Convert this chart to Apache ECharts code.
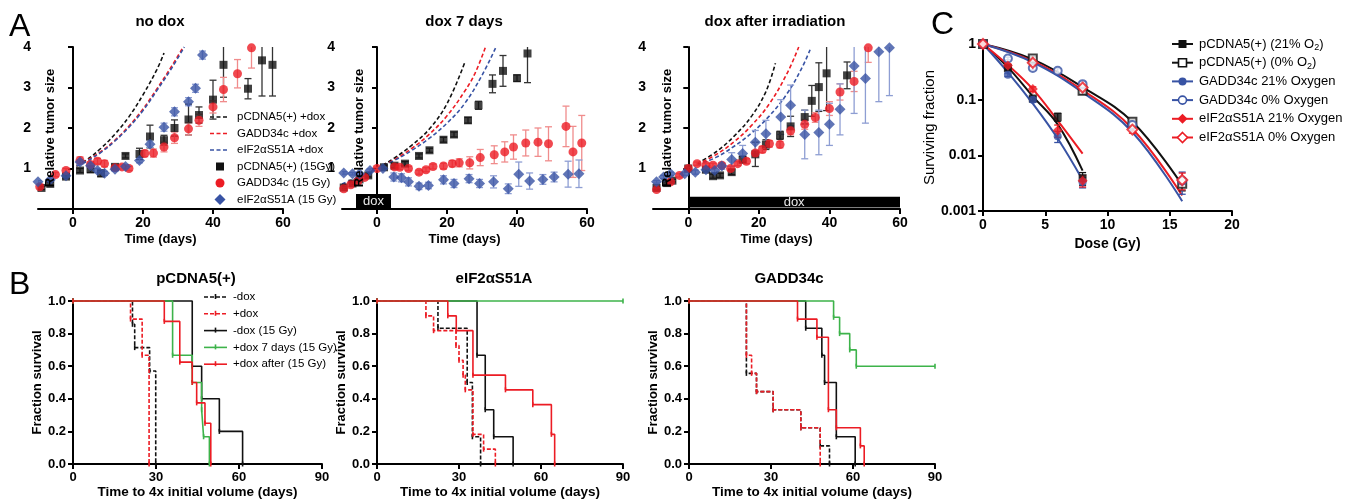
<!DOCTYPE html>
<html><head><meta charset="utf-8">
<script src="https://cdn.jsdelivr.net/npm/echarts@6/dist/echarts.min.js"></script>
<style>html,body{margin:0;padding:0;background:#fff}#c{width:1350px;height:502px}</style>
</head><body><div id="c"></div>
<script>
// ================= DATA =================
// Panel A ticks
const aXTicks = [0, 20, 40, 60];
const aYTicks = [1, 2, 3, 4];
// Panel A "no dox": fitted growth curves (+dox)  [day, relative size]
const noDoxFitPcdna = [[1,1.08],[4,1.22],[8,1.5],[12,1.85],[16,2.28],[20,2.82],[24,3.45],[26,3.85]];
const noDoxFitGadd  = [[1,1.07],[4,1.2],[8,1.42],[12,1.7],[16,2.05],[20,2.47],[24,2.97],[28,3.5],[31.5,4.0]];
const noDoxFitEif   = [[1,1.06],[4,1.18],[8,1.4],[12,1.68],[16,2.02],[20,2.43],[24,2.93],[28,3.45],[31.8,4.0]];
// 15 Gy groups  [day, mean, sem]
const noDoxPcdna = [[-9,0.52,0.04],[-6.5,0.62,0.04],[-2,0.8,0.05],[2,0.95,0.05],[5,0.98,0.08],[8,0.88,0.08],[12,1.04,0.05],[15,1.31,0.05],[19,1.36,0.14],[22,1.79,0.28],[26,1.7,0.12],[29,2.0,0.2],[33,2.21,0.38],[36,2.32,0.2],[40,2.7,0.48],[43,3.56,0.8],[50,2.97,0.25],[54,3.67,0.88],[57,3.56,0.77]];
const noDoxGadd  = [[-9.5,0.55,0.04],[-5,0.85,0.05],[-2,0.95,0.05],[2,1.2,0.09],[5,1.1,0.06],[7,1.18,0.07],[9,1.12,0.08],[12,1.02,0.05],[14,1.04,0.05],[16,1.0,0.05],[20.5,1.37,0.08],[23,1.38,0.1],[26,1.53,0.12],[29,1.76,0.14],[33,1.98,0.15],[36,2.19,0.15],[40,2.52,0.15],[43,2.95,0.3],[47,3.34,0.35],[51,3.98,0.5]];
const noDoxEif   = [[-10,0.67,0.03],[-6.5,0.72,0.03],[-2,0.82,0.04],[2,1.16,0.06],[5,1.07,0.06],[7,0.95,0.05],[9,0.88,0.05],[12,0.98,0.05],[15,1.05,0.05],[19,1.2,0.06],[22,1.6,0.08],[26,2.02,0.1],[29,2.4,0.1],[33,2.65,0.1],[35,2.98,0.1],[37,3.8,0.1]];
// Panel A "dox 7 days"
const dox7FitPcdna = [[-10,0.58],[-5,0.77],[0,1.0],[5,1.26],[10,1.58],[15,1.98],[20,2.6],[25,3.6]];
const dox7FitGadd  = [[-10,0.6],[-5,0.78],[0,1.0],[5,1.22],[10,1.5],[15,1.85],[20,2.3],[25,2.9],[28,3.35],[31,4.0]];
const dox7FitEif   = [[-10,0.62],[-5,0.8],[0,1.0],[5,1.2],[10,1.45],[15,1.75],[20,2.12],[25,2.6],[30,3.3],[34,4.0]];
const dox7Pcdna = [[-9.5,0.53,0.03],[-7,0.63,0.03],[-5,0.73,0.03],[-2.5,0.83,0.04],[2,1.03,0.04],[5,1.07,0.05],[8,1.12,0.05],[12,1.31,0.05],[15,1.45,0.05],[19,1.71,0.06],[22,1.84,0.06],[26,2.19,0.07],[29,2.56,0.1],[33,3.09,0.22],[36,3.41,0.38],[40,3.23,0.08],[43,3.84,0.72]];
const dox7Gadd  = [[-9.5,0.5,0.04],[-7.5,0.6,0.04],[-5.5,0.68,0.04],[-3.5,0.78,0.04],[0,1.0,0.03],[5,1.04,0.05],[6.5,1.03,0.05],[9,1.0,0.05],[12,0.91,0.05],[14,0.97,0.05],[16,1.05,0.06],[19,1.06,0.07],[21.5,1.12,0.08],[23.5,1.14,0.1],[26.5,1.14,0.15],[29.5,1.27,0.2],[33.5,1.34,0.22],[36.5,1.41,0.25],[39,1.53,0.3],[42.5,1.63,0.32],[46,1.65,0.35],[49,1.61,0.42],[54,2.04,0.5],[56,1.41,0.63],[58.5,1.63,0.68]];
const dox7Eif   = [[-9.5,0.89,0.03],[-7,0.87,0.03],[-5,0.87,0.03],[-2,0.95,0.04],[1.7,1.0,0.04],[4.8,0.79,0.1],[7,0.77,0.1],[9,0.67,0.1],[12,0.56,0.08],[14.7,0.58,0.08],[19,0.72,0.1],[22,0.63,0.1],[26.3,0.75,0.1],[29.3,0.63,0.1],[33.3,0.67,0.15],[37.5,0.5,0.12],[40.5,0.86,0.3],[43.6,0.69,0.2],[47.4,0.73,0.12],[50.6,0.79,0.12],[54.6,0.86,0.32],[57.7,0.87,0.34]];
const dox7Period = [[-6, 4]];
// Panel A "dox after irradiation"
const doxIrrFitPcdna = [[2.5,1.12],[8,1.42],[13,1.8],[18,2.3],[22,2.9],[24.7,3.6]];
const doxIrrFitGadd  = [[2.5,1.1],[8,1.35],[13,1.66],[18,2.07],[23,2.6],[28,3.35],[31.3,4.0]];
const doxIrrFitEif   = [[2.5,1.08],[8,1.28],[13,1.55],[18,1.88],[23,2.3],[28,2.85],[32,3.45],[34.6,3.95]];
const doxIrrPcdna = [[-9,0.52,0.03],[-6,0.64,0.03],[-4.5,0.7,0.03],[0,1.0,0.03],[5,0.97,0.05],[7,0.81,0.05],[9,0.83,0.05],[12.3,0.91,0.06],[15.4,1.22,0.08],[19,1.35,0.3],[22,1.59,0.12],[26,1.82,0.1],[29,2.04,0.25],[33,2.27,0.17],[35,2.67,0.38],[37,3.01,0.6],[39.2,3.35,0.92],[45,3.3,0.33]];
const doxIrrGadd  = [[-9,0.48,0.03],[-5,0.67,0.03],[-2.5,0.83,0.04],[0,1.0,0.03],[2.5,1.12,0.04],[5,1.08,0.05],[7,1.08,0.05],[9.5,1.08,0.05],[12,1.0,0.05],[14,1.12,0.05],[16.5,1.18,0.06],[19,1.38,0.07],[21,1.47,0.08],[23,1.61,0.08],[26,1.59,0.08],[29,1.93,0.1],[33,2.09,0.12],[36,2.26,0.12],[40,2.48,0.17],[43,2.89,0.2],[47,3.15,0.25],[51,3.98,0.36]];
const doxIrrEif   = [[-9,0.67,0.03],[-7,0.79,0.04],[-5,0.87,0.04],[-1,0.87,0.04],[2,0.91,0.05],[5,0.97,0.06],[7.5,0.95,0.06],[9.5,1.06,0.08],[12.3,1.22,0.17],[15.4,1.37,0.2],[19,1.65,0.29],[22,1.86,0.33],[26.2,2.27,0.43],[29,2.56,0.5],[33,1.84,0.6],[37,1.89,0.55],[40,2.09,0.52],[43,2.46,0.63],[47,3.53,1.17],[50.2,3.22,1.1],[54,3.88,1.23],[57,3.98,1.18]];
const doxIrrPeriod = [[0, 60]];

// Panel C: clonogenic survival  [dose Gy, surviving fraction, sem]
const cPcdna21 = [[0,1,0],[2,0.37,0.03],[4,0.105,0.01],[6,0.049,0.008],[8,0.0039,0.001]];
const cPcdna0  = [[0,1,0],[4,0.55,0.04],[8,0.145,0.02],[12,0.04,0.004],[16,0.0031,0.0008]];
const cGadd21  = [[0,1,0],[2,0.28,0.02],[4,0.1,0.01],[6,0.022,0.005],[8,0.0033,0.0007]];
const cGadd0   = [[0,1,0],[2,0.55,0.03],[4,0.37,0.03],[6,0.33,0.03],[8,0.19,0.02],[12,0.035,0.004],[16,0.0035,0.0015]];
const cEif21   = [[0,1,0],[2,0.41,0.03],[4,0.155,0.015],[6,0.028,0.007],[8,0.0035,0.0008]];
const cEif0    = [[0,1,0],[4,0.46,0.03],[8,0.165,0.02],[12,0.029,0.004],[16,0.0036,0.0012]];
const cFitPcdna21 = [[0,1],[2,0.38],[4,0.115],[6,0.036],[8,0.0053]];
const cFitGadd21  = [[0,1],[2,0.31],[4,0.085],[6,0.02],[8,0.0036]];
const cFitEif21   = [[0,1],[2,0.42],[4,0.155],[6,0.042],[8,0.0107]];
const cFitPcdna0  = [[0,1],[4,0.53],[8,0.168],[12,0.04],[16,0.0029]];
const cFitEif0    = [[0,1],[4,0.49],[8,0.148],[12,0.03],[16,0.0019]];
const cFitGadd0   = [[0,1],[4,0.47],[8,0.135],[12,0.026],[16,0.0015]];
const cXTicks = [0, 5, 10, 15, 20];

// Panel B: Kaplan-Meier  [days, fraction surviving]
const bXTicks = [0, 30, 60, 90];
const bYTicks = [0, 0.2, 0.4, 0.6, 0.8, 1.0];
const kmPcdnaNoDox     = [[0,1],[21.5,0.857],[22.3,0.714],[27.7,0.571],[29.9,0]];
const kmPcdnaDox       = [[0,1],[20.8,0.889],[25,0.667],[27.5,0]];
const kmPcdnaNoDox15   = [[0,1],[43.1,0.6],[46.5,0.4],[52.9,0.2],[61.3,0]];
const kmPcdnaDox7      = [[0,1],[36,0.667],[43.1,0.5],[46.5,0.333],[47.2,0.167],[49.3,0]];
const kmPcdnaDoxAfter  = [[0,1],[33,0.875],[38.6,0.625],[43.1,0.5],[44.7,0.375],[47.7,0.25],[49.8,0]];
const kmEifNoDox       = [[0,1],[22.3,0.833],[33,0.5],[34.9,0.167],[37.9,0]];
const kmEifDox         = [[0,1],[17.9,0.909],[20.7,0.818],[28.9,0.727],[30,0.636],[31.5,0.545],[32.3,0.455],[35.1,0.182],[39,0.091],[43.3,0]];
const kmEifNoDox15     = [[0,1],[36.6,0.667],[39.6,0.333],[42.7,0.167],[49.8,0]];
const kmEifDox7        = [[0,1],[90,1]];
const kmEifDoxAfter    = [[0,1],[25.9,0.909],[29,0.818],[35.1,0.545],[47,0.455],[57,0.364],[63.8,0.182],[65,0]];
const kmGaddNoDox      = [[0,1],[21,0.556],[24.7,0.444],[30.8,0.333],[40.9,0.222],[48,0.111],[51.4,0]];
const kmGaddDox        = [[0,1],[21,0.667],[22.9,0.556],[24.7,0.444],[30.8,0.333],[40.9,0.222],[48,0]];
const kmGaddNoDox15    = [[0,1],[42.7,0.833],[48.6,0.667],[49.6,0.5],[53.9,0.167],[60.8,0]];
const kmGaddDox7       = [[0,1],[52.9,0.9],[55.1,0.8],[58.8,0.7],[61.2,0.6],[90,0.6]];
const kmGaddDoxAfter   = [[0,1],[39.7,0.889],[46.8,0.778],[51,0.333],[53.9,0.222],[62.7,0.111],[64.1,0]];

// ================= STYLE / LAYOUT =================
const FONT = "'Liberation Sans', Arial, Helvetica, sans-serif";
const BLACK = '#111111', RED = '#ec1c24', BLUE = '#3853a4', GREEN = '#3db34a';
const RED_ERR = '#f08c8c', BLUE_ERR = '#8e9ed3', BLACK_ERR = '#333333';

const grids = [
  {left: 38,  top: 47,  width: 245, height: 162},
  {left: 342, top: 47,  width: 245, height: 162},
  {left: 653, top: 47,  width: 247, height: 162},
  {left: 983, top: 44,  width: 249, height: 167},
  {left: 73,  top: 301, width: 249, height: 163},
  {left: 377, top: 301, width: 246, height: 163},
  {left: 689, top: 301, width: 246, height: 163}
];
const aYNameX = [50, 359, 667];

const lineAx = {show: true, lineStyle: {color: '#000', width: 2}};
const tickAx = {show: true, length: 5, lineStyle: {color: '#000', width: 2}};
function lab(size, weight) { return {color: '#000', fontFamily: FONT, fontWeight: weight || 'bold', fontSize: size}; }

const xAxes = [], yAxes = [];
for (let g = 0; g < 3; g++) {
  xAxes.push({gridIndex: g, type: 'value', min: -10, max: 60,
    axisLine: Object.assign({onZero: true}, lineAx),
    axisTick: Object.assign({customValues: aXTicks}, tickAx),
    axisLabel: Object.assign({customValues: aXTicks, margin: 7}, lab(14)),
    splitLine: {show: false},
    name: 'Time (days)', nameLocation: 'middle', nameGap: 24, nameTextStyle: lab(13)});
  yAxes.push({gridIndex: g, type: 'value', min: 0, max: 4, interval: 1,
    axisLine: Object.assign({onZero: true}, lineAx),
    axisTick: Object.assign({customValues: aYTicks}, tickAx),
    axisLabel: Object.assign({customValues: aYTicks, margin: 7}, lab(14)),
    splitLine: {show: false}});
}
xAxes.push({gridIndex: 3, type: 'value', min: 0, max: 20,
  axisLine: Object.assign({onZero: false}, lineAx),
  axisTick: Object.assign({customValues: cXTicks}, tickAx),
  axisLabel: Object.assign({customValues: cXTicks, margin: 7}, lab(14)),
  splitLine: {show: false},
  name: 'Dose (Gy)', nameLocation: 'middle', nameGap: 26, nameTextStyle: lab(14)});
yAxes.push({gridIndex: 3, type: 'log', logBase: 10, min: 0.001, max: 1,
  axisLine: Object.assign({onZero: false}, lineAx),
  axisTick: tickAx, minorTick: {show: false},
  axisLabel: Object.assign({margin: 7, formatter: v => String(v)}, lab(14)),
  splitLine: {show: false},
  name: 'Surviving fraction', nameLocation: 'middle', nameGap: 28, nameTextStyle: lab(15, 'normal')});
for (let g = 4; g < 7; g++) {
  xAxes.push({gridIndex: g, type: 'value', min: 0, max: 90,
    axisLine: lineAx,
    axisTick: Object.assign({customValues: bXTicks}, tickAx),
    axisLabel: Object.assign({customValues: bXTicks, margin: 7}, lab(13)),
    splitLine: {show: false},
    name: 'Time to 4x initial volume (days)', nameLocation: 'middle', nameGap: 21, nameTextStyle: lab(13.5)});
  yAxes.push({gridIndex: g, type: 'value', min: 0, max: 1,
    axisLine: lineAx,
    axisTick: Object.assign({customValues: bYTicks}, tickAx),
    axisLabel: Object.assign({customValues: bYTicks, margin: 7, formatter: v => v.toFixed(1)}, lab(13)),
    splitLine: {show: false},
    name: 'Fraction survival', nameLocation: 'middle', nameGap: 24, nameTextStyle: lab(13)});
}

// ================= SERIES HELPERS =================
function errSeries(g, data, color, cap, clip) {
  return {type: 'custom', xAxisIndex: g, yAxisIndex: g, data: data, clip: clip, silent: true, z: 3,
    encode: {x: 0, y: 1},
    renderItem: function (params, api) {
      const x = api.value(0), y = api.value(1), e = api.value(2);
      if (!e) return null;
      const lo = Math.max(y - e, 1e-5);
      const p1 = api.coord([x, y + e]), p2 = api.coord([x, lo]);
      const st = {stroke: color, lineWidth: 1.3};
      return {type: 'group', children: [
        {type: 'line', shape: {x1: p1[0], y1: p1[1], x2: p2[0], y2: p2[1]}, style: st},
        {type: 'line', shape: {x1: p1[0] - cap, y1: p1[1], x2: p1[0] + cap, y2: p1[1]}, style: st},
        {type: 'line', shape: {x1: p2[0] - cap, y1: p2[1], x2: p2[0] + cap, y2: p2[1]}, style: st}
      ]};
    }};
}
function fitSeries(g, data, color, dashed, width) {
  return {type: 'line', xAxisIndex: g, yAxisIndex: g, data: data, smooth: 0.4, symbol: 'none', clip: false, silent: true, z: 2,
    lineStyle: {color: color, width: width || 1.6, type: dashed ? [4, 2.5] : 'solid'}};
}
function ptSeries(g, data, symbol, size, color, z) {
  const empty = symbol.indexOf('empty') === 0;
  return {type: 'scatter', xAxisIndex: g, yAxisIndex: g, data: data, symbol: symbol, symbolSize: size, clip: false, silent: true, z: z || 4,
    itemStyle: empty ? {color: color, borderColor: color, borderWidth: 1.6} : {color: color}};
}
function doxSeries(g, data, h0, h1) {
  return {type: 'custom', xAxisIndex: g, yAxisIndex: g, data: data, silent: true, z: 5,
    renderItem: function (params, api) {
      const p0 = api.coord([api.value(0), h1]), p1 = api.coord([api.value(1), h0]);
      return {type: 'group', children: [
        {type: 'rect', shape: {x: p0[0], y: p0[1], width: p1[0] - p0[0], height: p1[1] - p0[1]}, style: {fill: '#000'}},
        {type: 'text', style: {text: 'dox', x: (p0[0] + p1[0]) / 2, y: (p0[1] + p1[1]) / 2 + 0.5, fill: '#e8e8e8',
          align: 'center', verticalAlign: 'middle', textAlign: 'center', textVerticalAlign: 'middle', font: '13px ' + FONT}}
      ]};
    }};
}
function kmSeries(g, data, color, dashed, z) {
  return {type: 'line', xAxisIndex: g, yAxisIndex: g, data: data, step: 'end', clip: false, silent: true, z: z,
    symbol: 'rect', symbolSize: [1.6, 5], showSymbol: true, itemStyle: {color: color},
    lineStyle: {color: color, width: 1.6, type: dashed ? [4, 2] : 'solid'}};
}

const series = [];
const aPanels = [
  [noDoxFitPcdna, noDoxFitGadd, noDoxFitEif, noDoxPcdna, noDoxGadd, noDoxEif],
  [dox7FitPcdna, dox7FitGadd, dox7FitEif, dox7Pcdna, dox7Gadd, dox7Eif],
  [doxIrrFitPcdna, doxIrrFitGadd, doxIrrFitEif, doxIrrPcdna, doxIrrGadd, doxIrrEif]
];
aPanels.forEach(function (p, g) {
  series.push(fitSeries(g, p[0], BLACK, true));
  series.push(fitSeries(g, p[1], RED, true));
  series.push(fitSeries(g, p[2], BLUE, true));
  series.push(errSeries(g, p[3], BLACK_ERR, 3.5, true));
  series.push(errSeries(g, p[4], RED_ERR, 3.5, true));
  series.push(errSeries(g, p[5], BLUE_ERR, 3.5, true));
  series.push(ptSeries(g, p[3], 'rect', 8, BLACK, 4));
  series.push(ptSeries(g, p[4], 'circle', 9, RED, 4));
  series.push(ptSeries(g, p[5], 'diamond', 11, BLUE, 4));
});
series.push(doxSeries(1, dox7Period, 0.02, 0.37));
series.push(doxSeries(2, doxIrrPeriod, 0.04, 0.3));

// Panel C
series.push(fitSeries(3, cFitPcdna21, BLACK, false, 2));
series.push(fitSeries(3, cFitGadd21, BLUE, false, 2));
series.push(fitSeries(3, cFitEif21, RED, false, 2));
series.push(fitSeries(3, cFitPcdna0, BLACK, false, 2));
series.push(fitSeries(3, cFitEif0, RED, false, 2));
series.push(fitSeries(3, cFitGadd0, BLUE, false, 2));
[[cPcdna21, BLACK], [cPcdna0, BLACK], [cGadd21, BLUE], [cGadd0, BLUE], [cEif21, RED], [cEif0, RED]].forEach(function (d) {
  series.push(errSeries(3, d[0], d[1], 3.5, false));
});
series.push(ptSeries(3, cPcdna21, 'rect', 8, BLACK));
series.push(ptSeries(3, cPcdna0, 'emptyRect', 8, BLACK));
series.push(ptSeries(3, cGadd21, 'circle', 8, BLUE));
series.push(ptSeries(3, cGadd0, 'emptyCircle', 8, BLUE));
series.push(ptSeries(3, cEif21, 'diamond', 10, RED));
series.push(ptSeries(3, cEif0, 'emptyDiamond', 10, RED));

// Panel B
const bPanels = [
  [kmPcdnaNoDox, kmPcdnaDox, kmPcdnaNoDox15, kmPcdnaDox7, kmPcdnaDoxAfter],
  [kmEifNoDox, kmEifDox, kmEifNoDox15, kmEifDox7, kmEifDoxAfter],
  [kmGaddNoDox, kmGaddDox, kmGaddNoDox15, kmGaddDox7, kmGaddDoxAfter]
];
bPanels.forEach(function (p, i) {
  const g = 4 + i;
  series.push(kmSeries(g, p[0], BLACK, true, 2));
  series.push(kmSeries(g, p[1], RED, true, 3));
  series.push(kmSeries(g, p[2], BLACK, false, 4));
  series.push(kmSeries(g, p[3], GREEN, false, 5));
  series.push(kmSeries(g, p[4], RED, false, 6));
});

// ================= TEXT / LEGENDS (graphic) =================
const G = [];
function txt(text, x, y, font, align, extra) {
  const st = {text: text, x: x, y: y, font: font, fill: '#000', align: align || 'left', textAlign: align || 'left',
    verticalAlign: 'middle', textVerticalAlign: 'middle'};
  if (extra) Object.assign(st, extra);
  G.push({type: 'text', silent: true, z: 20, style: st});
}
function lline(x1, x2, y, color, dash, w) {
  G.push({type: 'line', silent: true, shape: {x1: x1, y1: y, x2: x2, y2: y}, style: {stroke: color, lineWidth: w || 1.6, lineDash: dash || null}});
}
function mark(kind, cx, cy, s, color) {
  let el;
  const empty = kind.indexOf('empty') === 0;
  const st = empty ? {fill: '#fff', stroke: color, lineWidth: 1.6} : {fill: color};
  const k = kind.replace('empty', '').toLowerCase();
  if (k === 'rect') el = {type: 'rect', shape: {x: cx - s / 2, y: cy - s / 2, width: s, height: s}};
  else if (k === 'circle') el = {type: 'circle', shape: {cx: cx, cy: cy, r: s / 2}};
  else el = {type: 'polygon', shape: {points: [[cx, cy - s / 2], [cx + s / 2, cy], [cx, cy + s / 2], [cx - s / 2, cy]]}};
  el.style = st; el.silent = true; el.z = 10;
  G.push(el);
}
// Panel letters and titles
txt('A', 9, 27, '32px ' + FONT);
txt('B', 9, 285, '32px ' + FONT);
txt('C', 931, 25, '32px ' + FONT);
const TFONT = 'bold 15px ' + FONT;
txt('no dox', 160, 22, TFONT, 'center');
txt('dox 7 days', 464, 22, TFONT, 'center');
txt('dox after irradiation', 775, 22, TFONT, 'center');
txt('pCDNA5(+)', 196, 279, TFONT, 'center');
txt('eIF2\u03b1S51A', 494, 279, TFONT, 'center');
txt('GADD34c', 789, 279, TFONT, 'center');
// Y-axis titles of panel A (rotated)
aYNameX.forEach(function (x) {
  G.push({type: 'text', silent: true, z: 20, x: x, y: 128, rotation: Math.PI / 2,
    style: {text: 'Relative tumor size', x: 0, y: 0, font: 'bold 13px ' + FONT, fill: '#000',
      align: 'center', textAlign: 'center', verticalAlign: 'middle', textVerticalAlign: 'middle'}});
});

// Legend A
const aLegend = ['pCDNA5(+) +dox', 'GADD34c +dox', 'eIF2\u03b1S51A +dox', 'pCDNA5(+) (15Gy)', 'GADD34c (15 Gy)', 'eIF2\u03b1S51A (15 Gy)'];
const LF = '11.5px ' + FONT;
aLegend.forEach(function (t, i) {
  const y = 117 + 16.5 * i;
  if (i === 0) lline(210, 229, y, BLACK, [4, 2.5]);
  if (i === 1) lline(210, 229, y, RED, [4, 2.5]);
  if (i === 2) lline(210, 229, y, BLUE, [4, 2.5]);
  if (i === 3) mark('rect', 220, y, 8, BLACK);
  if (i === 4) mark('circle', 220, y, 9, RED);
  if (i === 5) mark('diamond', 220, y, 11, BLUE);
  txt(t, 237, y, LF);
});
// Legend B
const bLegend = ['-dox', '+dox', '-dox (15 Gy)', '+dox 7 days (15 Gy)', '+dox after (15 Gy)'];
const bLegColors = [BLACK, RED, BLACK, GREEN, RED];
bLegend.forEach(function (t, i) {
  const y = 297 + 16.8 * i;
  lline(204, 227, y, bLegColors[i], i < 2 ? [4, 2] : null);
  G.push({type: 'line', silent: true, shape: {x1: 215.5, y1: y - 3, x2: 215.5, y2: y + 2}, style: {stroke: bLegColors[i], lineWidth: 1.6}});
  txt(t, 233, y, LF);
});
// Legend C
const cLegend = ['pCDNA5(+) (21% O{s|2})', 'pCDNA5(+) (0% O{s|2})', 'GADD34c 21% Oxygen', 'GADD34c 0% Oxygen', 'eIF2\u03b1S51A 21% Oxygen', 'eIF2\u03b1S51A 0% Oxygen'];
const cLegColors = [BLACK, BLACK, BLUE, BLUE, RED, RED];
const cLegMarks = ['rect', 'emptyRect', 'circle', 'emptyCircle', 'diamond', 'emptyDiamond'];
cLegend.forEach(function (t, i) {
  const y = 44 + 18.7 * i;
  lline(1172, 1193, y, cLegColors[i], null, 2);
  mark(cLegMarks[i], 1182.5, y, cLegMarks[i].indexOf('iamond') > 0 ? 10 : 8, cLegColors[i]);
  txt(t, 1199, y, '13px ' + FONT, 'left', {rich: {s: {font: '9px ' + FONT, fill: '#000', padding: [7, 0, 0, 0]}}});
});

// ================= CHART =================
const chart = echarts.init(document.getElementById('c'), null, {renderer: 'canvas'});
chart.setOption({
  animation: false,
  backgroundColor: '#fff',
  grid: grids,
  xAxis: xAxes,
  yAxis: yAxes,
  series: series,
  graphic: {elements: G}
});
</script>
</body></html>
